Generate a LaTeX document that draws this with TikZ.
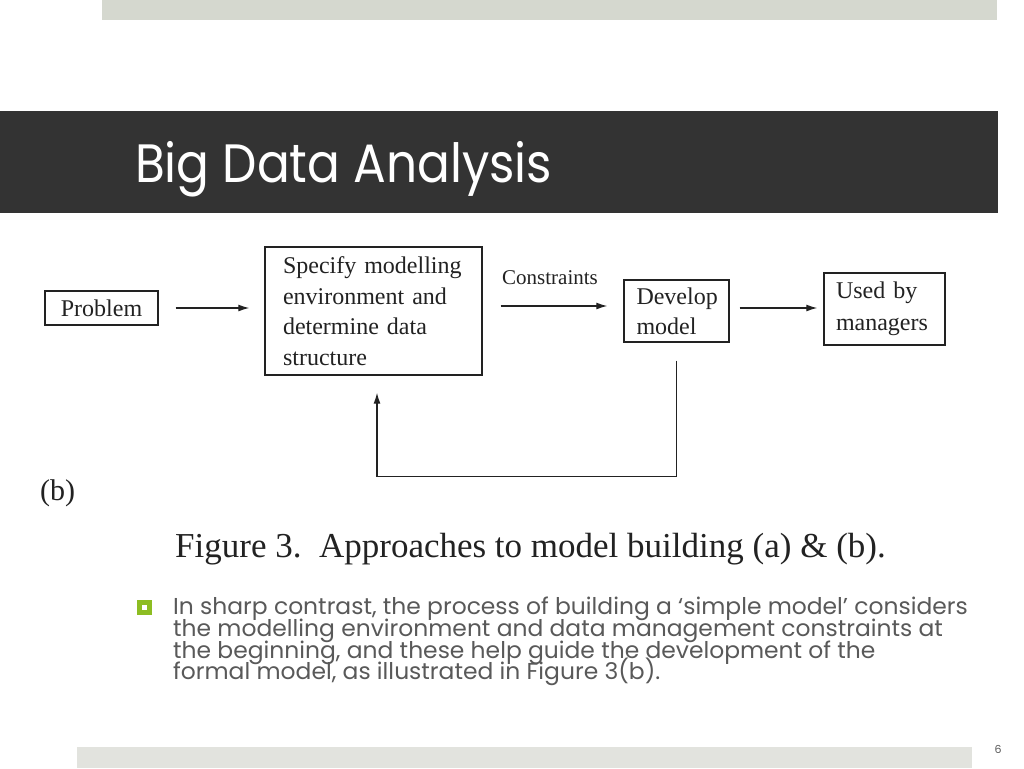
\documentclass[tikz,border=0pt]{standalone}
\usepackage{fontspec}
\usepackage{graphicx}
\setmainfont{Liberation Serif}
\newfontfamily\gothic{Poppins}
\usetikzlibrary{arrows.meta}
\definecolor{topbar}{HTML}{D5D8CF}
\definecolor{botbar}{HTML}{E2E3DE}
\definecolor{titlebg}{HTML}{333333}
\definecolor{bodytxt}{HTML}{595959}
\definecolor{bulletgreen}{HTML}{8DBD22}
\definecolor{ink}{HTML}{222222}
\begin{document}
\begin{tikzpicture}[x=1pt,y=-1pt,
  box/.style={draw=ink, line width=1.4pt, inner sep=0pt, align=left, text=ink},
  flow/.style={draw=ink, line width=1.3pt, -{Latex[length=11pt,width=7pt]}},
  plain/.style={anchor=base west, inner sep=0pt, text=ink},
  bodyline/.style={anchor=base west, inner sep=0pt, text=bodytxt, font=\gothic\fontsize{23}{23}\selectfont},
]
\useasboundingbox (0,0) rectangle (1024,768);
\fill[white] (0,0) rectangle (1024,768);
\fill[topbar] (102,0) rectangle (997,20);
\fill[titlebg] (0,111) rectangle (998,213);
\fill[botbar] (77,747) rectangle (972,768);
\node[anchor=base west, inner sep=0pt, text=white, font=\gothic\fontsize{54}{54}\selectfont] (title) at (135,182) {\scalebox{0.9}[1]{Big Data Analysis}};

% diagram
\node[box, minimum width=113pt, minimum height=34pt, font=\fontsize{24}{30}\selectfont] (problem) at (101.5,308) {Problem};
\node[box, minimum width=217pt, minimum height=128pt, text width=181pt, font=\fontsize{24}{30.5}\selectfont] (specify) at (373.5,311) {Specify modelling\\environment and\\determine data\\structure};
\node[box, minimum width=105pt, minimum height=62pt, text width=80pt, font=\fontsize{24}{30}\selectfont] (develop) at (676.5,311) {Develop\\model};
\node[box, minimum width=121pt, minimum height=72pt, text width=97pt, font=\fontsize{24}{32}\selectfont] (used) at (884.5,309) {Used by\\managers};
\node[plain, font=\fontsize{21}{21}\selectfont] (constraints) at (502,284) {Constraints};

\draw[flow] ([xshift=17pt]problem.east) -- ([xshift=-15pt]problem.east -| specify.west);
\draw[flow] ([shift={(18,-5)}]specify.east) -- ([shift={(-16,-5)}]develop.west);
\draw[flow] ([shift={(10,-3)}]develop.east) -- ([shift={(-6,-1)}]used.west);
\draw[flow] ([shift={(0,18)}]develop.south) -- ++(0,116) -| ([shift={(3.5,17)}]specify.south);

\node[plain, font=\fontsize{30}{30}\selectfont] (blabel) at (40,500) {(b)};
\node[plain, font=\fontsize{35}{35}\selectfont] (caption) at (175,557) {Figure 3.\ \ Approaches to model building (a) \& (b).};

% bullet
\fill[bulletgreen] (137,600) rectangle (152,615);
\fill[white] (142,605) rectangle (147,610);
\node[bodyline] (l1) at (173,614) {\scalebox{1.018}[1]{In sharp contrast, the process of building a ‘simple model’ considers}};
\node[bodyline] (l2) at (173,636) {\scalebox{1.018}[1]{the modelling environment and data management constraints at}};
\node[bodyline] (l3) at (173,658) {\scalebox{1.018}[1]{the beginning, and these help guide the development of the}};
\node[bodyline] (l4) at (173,679) {\scalebox{1.018}[1]{formal model, as illustrated in Figure 3(b).}};

\node[anchor=base, inner sep=0pt, text=bodytxt, font=\gothic\fontsize{11}{11}\selectfont] (pagenum) at (998,753) {6};
\end{tikzpicture}
\end{document}
